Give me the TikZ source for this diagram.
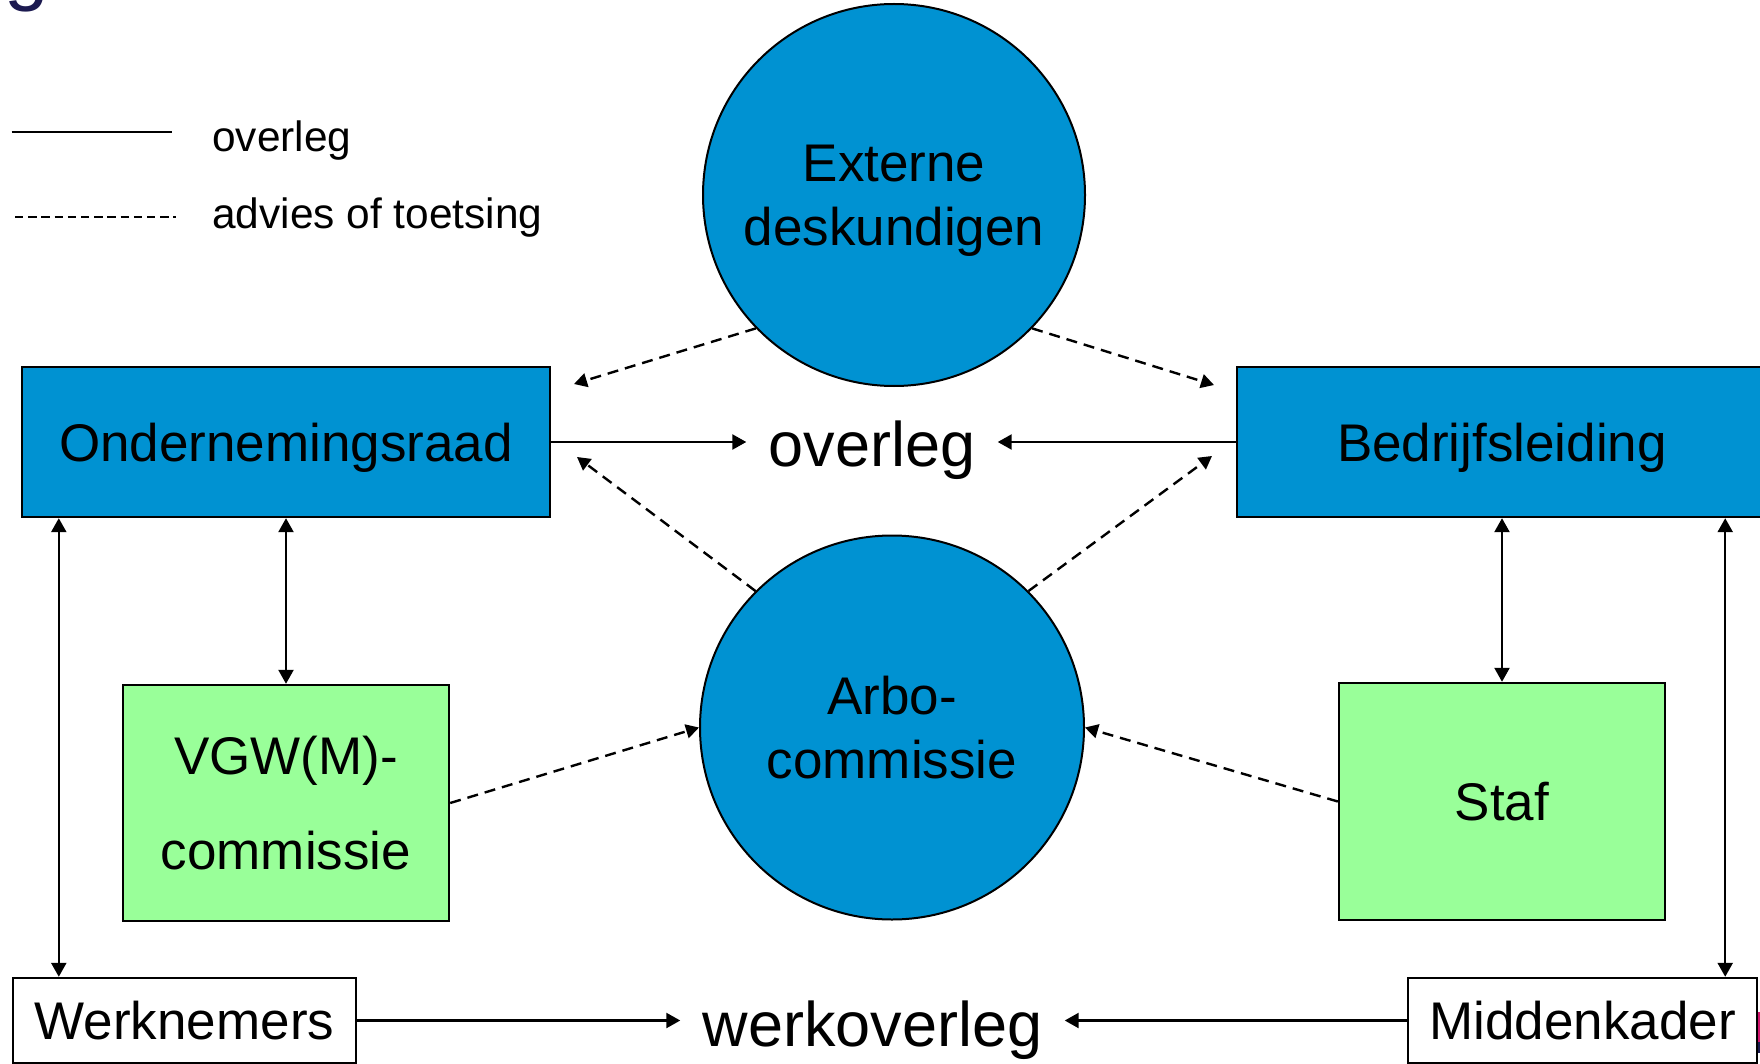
\documentclass[tikz,border=0pt]{standalone}
\usepackage{fontspec}
\setmainfont{Liberation Sans}
\usetikzlibrary{shapes.geometric,arrows.meta}
\definecolor{orgblue}{RGB}{0,146,210}
\definecolor{staffgreen}{RGB}{153,255,153}
\definecolor{titlenavy}{RGB}{28,26,80}
\definecolor{stripmag}{RGB}{210,20,110}
\begin{document}
\begin{tikzpicture}[x=0.5pt,y=-0.5pt,
  boxtext/.style={font=\fontsize{26.5}{31.8}\selectfont},
  box/.style={boxtext,draw=black,line width=1.2pt,rectangle,inner sep=0pt,text height=19pt,text depth=0pt},
  bluebox/.style={box,fill=orgblue},
  greenbox/.style={boxtext,draw=black,line width=1.2pt,rectangle,inner sep=0pt,fill=staffgreen,align=center},
  whitebox/.style={box,fill=white},
  disc/.style={boxtext,draw=black,line width=1pt,fill=orgblue,inner sep=0pt,align=center,text depth=0pt,circle},
  bigtext/.style={font=\fontsize{31.5}{37.8}\selectfont,anchor=base,inner xsep=11pt,inner ysep=0pt},
  legendtext/.style={font=\fontsize{21.2}{25.4}\selectfont,anchor=base west,inner sep=0pt},
  link/.style={line width=1.2pt,-{Triangle[length=7pt,width=7.5pt]}},
  bilink/.style={line width=1.2pt,{Triangle[length=7pt,width=7.5pt]}-{Triangle[length=7pt,width=7.5pt]}},
  advice/.style={line width=1.2pt,dash pattern=on 5.5pt off 3.5pt,-{Triangle[length=6.5pt,width=7pt]}},
]
\useasboundingbox (0,0) rectangle (1760,1064);
\clip (0,0) rectangle (1760,1064);

% cropped title fragment and edge strip
\node[anchor=base west,inner sep=0pt,text=titlenavy,font=\fontsize{40}{48}\selectfont] (ttl) at (4,-4) {g};
\fill[stripmag] (1757,1012) rectangle (1760,1042);
\fill[titlenavy] (1757,1042) rectangle (1760,1053);

% legend
\coordinate (ls1) at (11.5,132);
\coordinate (ls2) at (171.5,132);
\draw[line width=1.2pt] (ls1) -- (ls2);
\coordinate (ld1) at (15,217);
\coordinate (ld2) at (176,217);
\draw[line width=0.9pt,dash pattern=on 4.2pt off 2.4pt] (ld1) -- (ld2);
\node[legendtext] (lg1) at (212,152) {overleg};
\node[legendtext] (lg2) at (212,228) {advies of toetsing};

% nodes
\node[bluebox,minimum width=264pt,minimum height=75pt] (onr) at (286,442) {Ondernemingsraad};
\node[bluebox,minimum width=265pt,minimum height=75pt] (bl) at (1502,442) {Bedrijfsleiding};
\node[greenbox,minimum width=163pt,minimum height=118pt,font=\fontsize{26.5}{47.5}\selectfont] (vgw) at (286,803) {VGW(M)-\\commissie};
\node[greenbox,minimum width=163pt,minimum height=118.5pt,text height=19pt,text depth=0pt] (staf) at (1502,801.5) {Staf};
\node[whitebox,minimum width=171.5pt,minimum height=42.5pt] (wn) at (184.5,1020.5) {Werknemers};
\node[whitebox,minimum width=174.5pt,minimum height=42.5pt] (mk) at (1582.5,1020.5) {Middenkader};
\node[disc,minimum size=191pt] (ext) at (894,195) {Externe\\deskundigen};
\node[disc,minimum size=192pt] (arbo) at (892,727.5) {Arbo-\\commissie};
\node[bigtext] (ov) at (872,466) {overleg};
\node[bigtext] (wo) at (872.5,1046) {werkoverleg};

% solid connectors
\draw[link] (onr.east) -- (ov.west |- onr.east);
\draw[link] (bl.west) -- (ov.east |- bl.west);
\draw[link] (wn.east) -- (wo.west |- wn.east);
\draw[link] (mk.west) -- (wo.east |- mk.west);
\coordinate (lA) at ([xshift=19pt]onr.south west);
\coordinate (rA) at ([xshift=-21.5pt]bl.south east);
\draw[bilink] (lA) -- (lA |- wn.north);
\draw[bilink] (rA) -- (rA |- mk.north);
\draw[bilink] (onr.south) -- (vgw.north);
\draw[bilink] (bl.south) -- (staf.north);

% dashed connectors
\coordinate (t1) at (574,384);
\coordinate (t2) at (1214,385);
\coordinate (t3) at (577,457);
\coordinate (t4) at (1212,456);
\draw[advice] (ext.224) -- (t1);
\draw[advice] (ext.316) -- (t2);
\draw[advice] (arbo.135) -- (t3);
\draw[advice] (arbo.45) -- (t4);
\draw[advice] (vgw.east) -- (arbo.west);
\draw[advice] (staf.west) -- (arbo.east);
\end{tikzpicture}
\end{document}
